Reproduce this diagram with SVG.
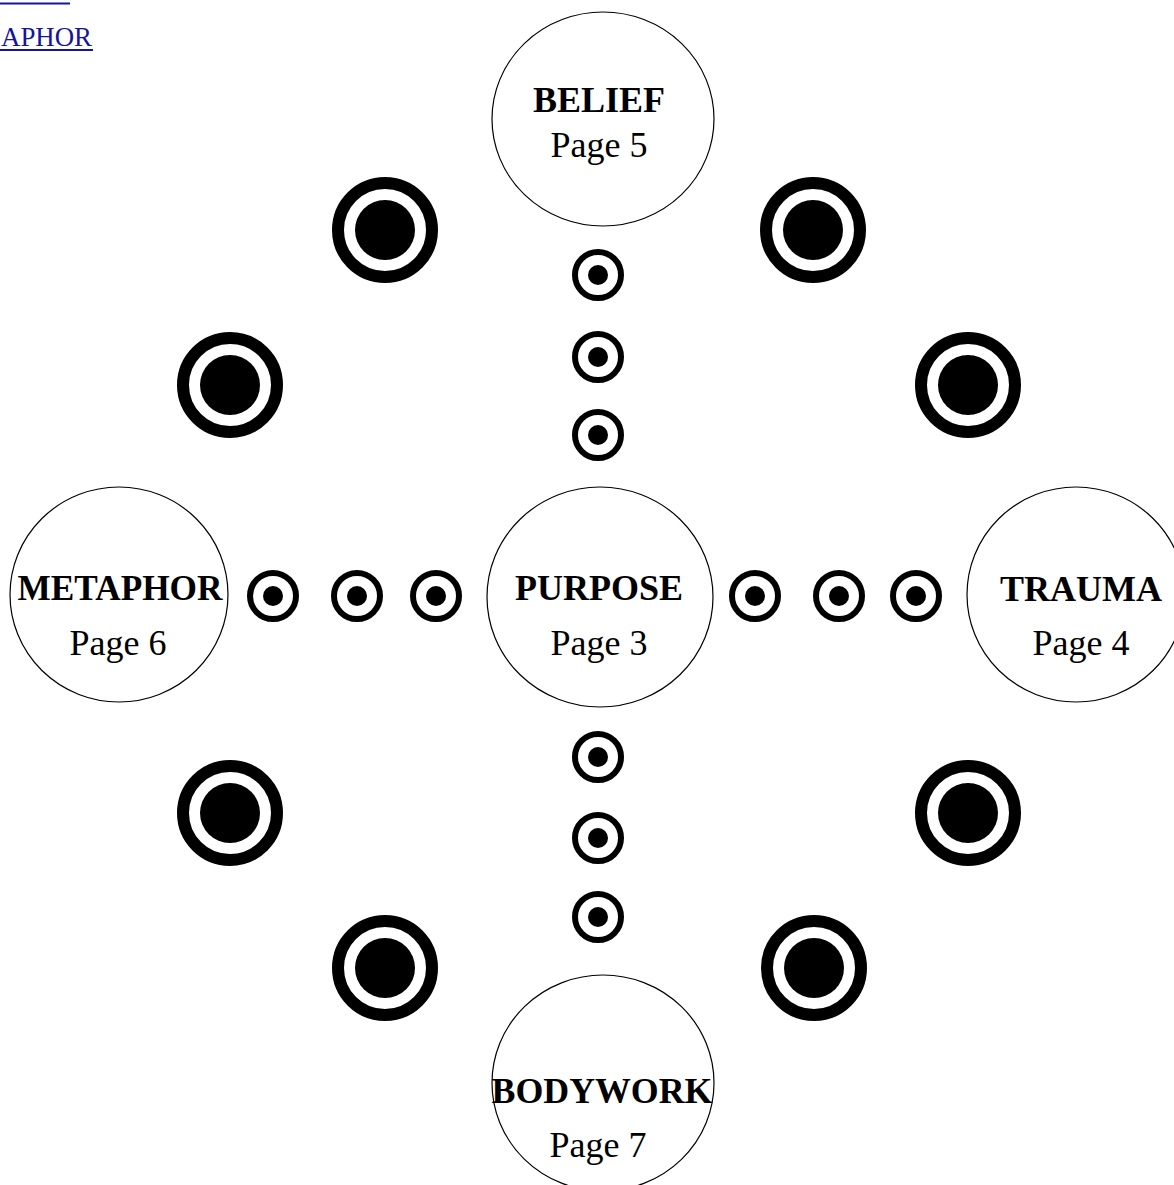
<svg xmlns="http://www.w3.org/2000/svg" width="1174" height="1185" viewBox="0 0 1174 1185">
  <style>
    .node { fill: #ffffff; stroke: #000000; stroke-width: 1.2; }
    .title { font-family: "Liberation Serif", "Times New Roman", serif; font-weight: bold; font-size: 36px; fill: #000; text-anchor: middle; }
    .page { font-family: "Liberation Serif", "Times New Roman", serif; font-size: 36px; fill: #000; text-anchor: middle; }
    .link { font-family: "Liberation Serif", "Times New Roman", serif; font-size: 27px; fill: #14149c; }
  </style>
  <defs>
    <g id="small">
      <circle r="23" fill="#fff" stroke="#000" stroke-width="6"/>
      <circle r="10" fill="#000"/>
    </g>
    <g id="big">
      <circle r="47" fill="#fff" stroke="#000" stroke-width="12"/>
      <circle r="30" fill="#000"/>
    </g>
  </defs>
  <rect width="1174" height="1185" fill="#ffffff"/>

  <g id="link">
    <line x1="0" y1="3.5" x2="70" y2="3.5" stroke="#14149c" stroke-width="2"/>
    <text class="link" x="1" y="46" textLength="91" lengthAdjust="spacingAndGlyphs">APHOR</text>
    <line x1="0" y1="50" x2="93" y2="50" stroke="#14149c" stroke-width="2"/>
  </g>

  <g id="decorations">
    <use href="#big" x="385" y="230"/>
    <use href="#big" x="813" y="230"/>
    <use href="#big" x="230" y="385"/>
    <use href="#big" x="968" y="385"/>
    <use href="#big" x="230" y="813"/>
    <use href="#big" x="968" y="813"/>
    <use href="#big" x="385" y="968"/>
    <use href="#big" x="814" y="968"/>
  </g>

  <g id="connectors">
    <use href="#small" x="598" y="275"/>
    <use href="#small" x="598" y="357"/>
    <use href="#small" x="598" y="435"/>
    <use href="#small" x="598" y="757"/>
    <use href="#small" x="598" y="838"/>
    <use href="#small" x="598" y="917"/>
    <use href="#small" x="273" y="596"/>
    <use href="#small" x="357" y="596"/>
    <use href="#small" x="436" y="596"/>
    <use href="#small" x="755" y="596"/>
    <use href="#small" x="839" y="596"/>
    <use href="#small" x="916" y="596"/>
  </g>

  <g id="belief">
    <ellipse class="node" cx="603" cy="119" rx="111" ry="107"/>
    <text class="title" x="599" y="112">BELIEF</text>
    <text class="page" x="599" y="157">Page 5</text>
  </g>

  <g id="purpose">
    <ellipse class="node" cx="600" cy="597" rx="113" ry="110"/>
    <text class="title" x="599" y="600">PURPOSE</text>
    <text class="page" x="599" y="655">Page 3</text>
  </g>

  <g id="metaphor">
    <ellipse class="node" cx="119" cy="594.5" rx="109" ry="107.5"/>
    <text class="title" x="120" y="600" textLength="205" lengthAdjust="spacingAndGlyphs">METAPHOR</text>
    <text class="page" x="118" y="655">Page 6</text>
  </g>

  <g id="trauma">
    <ellipse class="node" cx="1076" cy="594.5" rx="109" ry="107.5"/>
    <text class="title" x="1081" y="601">TRAUMA</text>
    <text class="page" x="1081" y="655">Page 4</text>
  </g>

  <g id="bodywork">
    <ellipse class="node" cx="603" cy="1083" rx="111" ry="108"/>
    <text class="title" x="602" y="1103" textLength="221" lengthAdjust="spacingAndGlyphs">BODYWORK</text>
    <text class="page" x="598" y="1157">Page 7</text>
  </g>
</svg>
